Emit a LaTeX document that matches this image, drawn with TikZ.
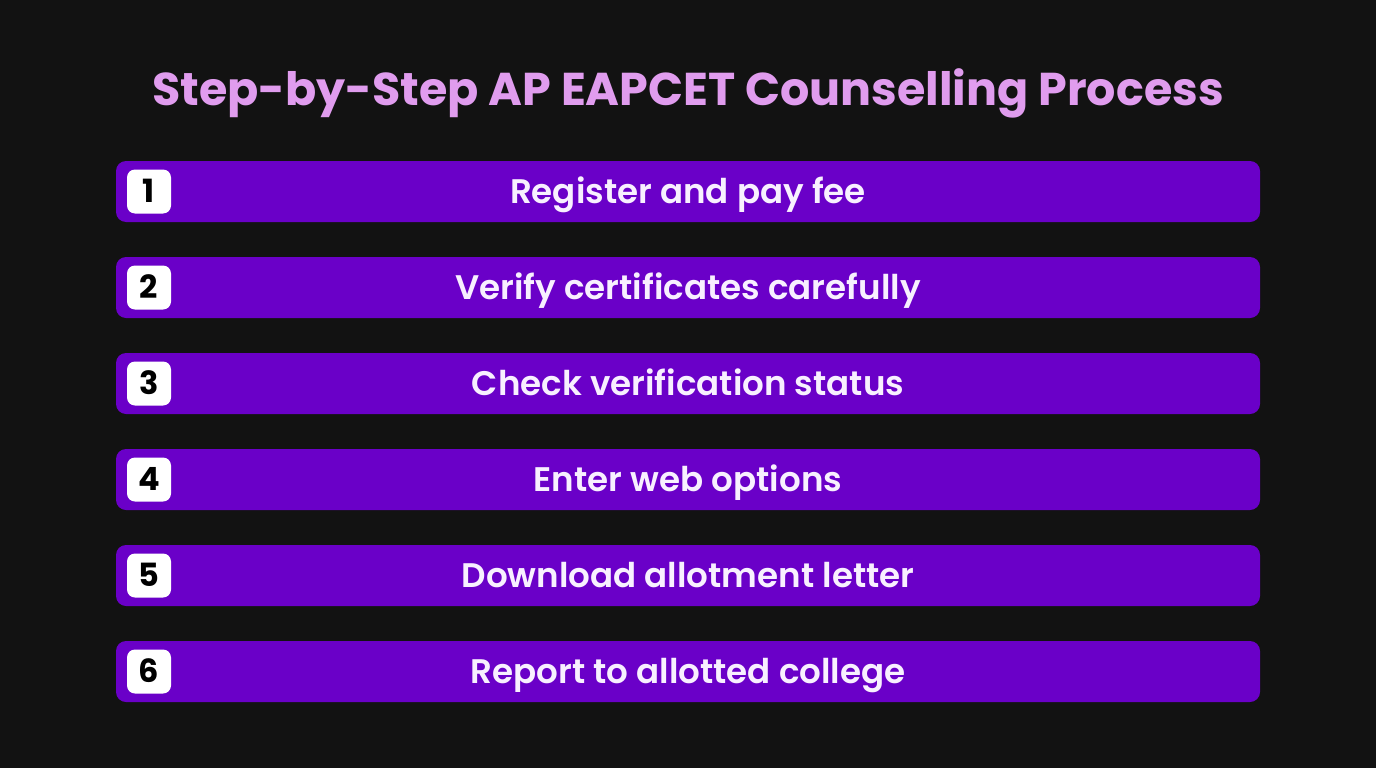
\documentclass[tikz,border=0pt]{standalone}
\usepackage{fontspec}
\setmainfont{Poppins}
\newfontfamily\semib{Poppins SemiBold}
\definecolor{bg}{HTML}{121212}
\definecolor{barc}{HTML}{6A00C8}
\definecolor{titlec}{HTML}{E09CEE}
\definecolor{txtc}{HTML}{F8F0FF}
\begin{document}
\begin{tikzpicture}[x=1pt,y=-1pt,
  stepbar/.style={fill=barc, rounded corners=10pt, minimum width=1144pt, minimum height=61pt, inner sep=0pt, font=\fontsize{34.1}{38}\selectfont\semib, text=txtc, text height=23.8pt, text depth=0pt},
  numbox/.style={fill=white, rounded corners=8pt, minimum width=44pt, minimum height=44pt, inner sep=0pt, font=\fontsize{32}{36}\selectfont\bfseries, text=black, text height=22.4pt, text depth=0pt}]
\fill[bg] (0,0) rectangle (1376,768);
\useasboundingbox (0,0) rectangle (1376,768);
\node[font=\fontsize{46}{54}\selectfont\bfseries, text=titlec, text height=32pt, text depth=0pt, inner sep=0pt] (title) at (688,89) {Step-by-Step AP EAPCET Counselling Process};
\foreach \i/\t in {1/Register and pay fee,2/Verify certificates carefully,3/Check verification status,4/Enter web options,5/Download allotment letter,6/Report to allotted college}{
  \node[stepbar] (bar\i) at (688,{191.5+96*(\i-1)}) {\t};
  \node[numbox] (num\i) at (149,{191.5+96*(\i-1)}) {\i};
}
\end{tikzpicture}
\end{document}
